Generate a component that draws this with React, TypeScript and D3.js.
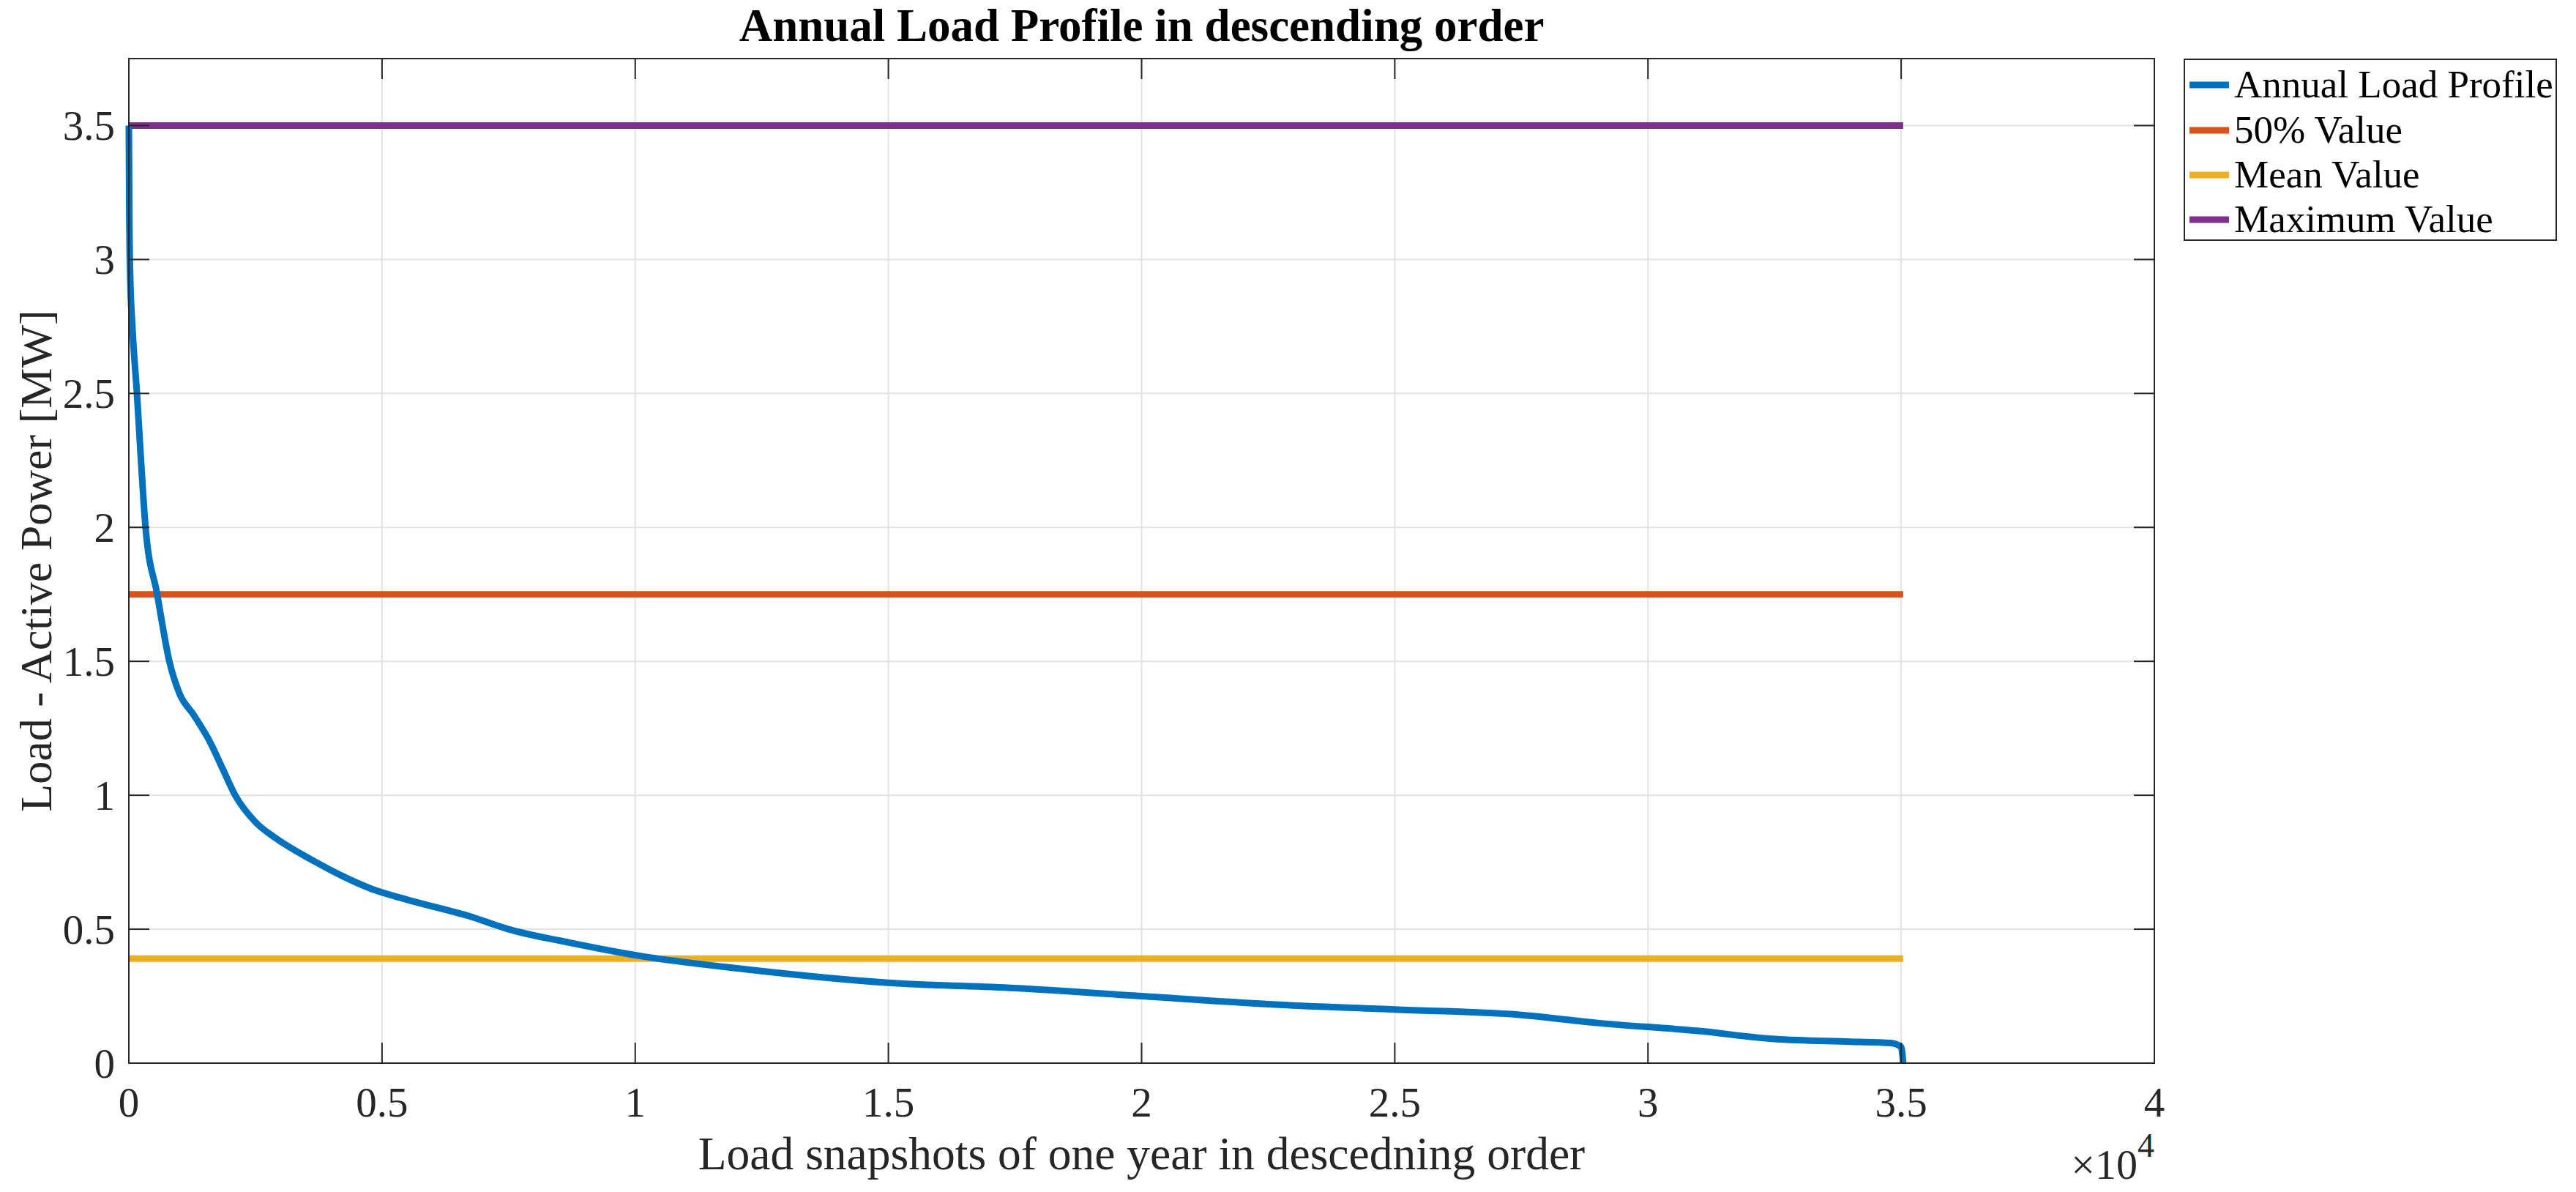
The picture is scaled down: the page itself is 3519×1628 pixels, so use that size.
import React from "react";
import * as d3 from "d3";

const W = 3519;
const H = 1628;

// Sorted annual load profile (snapshot index, MW)
const loadX = [0, 8, 25, 70, 160, 240, 330, 560, 800, 1000, 1280, 1600, 1850, 2100, 2500, 2900, 3600, 4200, 4800, 5500, 6700, 7500, 8700, 10100, 12200, 15000, 17500, 20000, 22500, 25000, 27500, 29000, 31000, 32500, 34000, 34800, 35000, 35040];
const loadY = [3.5, 3.2, 2.95, 2.75, 2.5, 2.25, 2.0, 1.75, 1.5, 1.38, 1.3, 1.2, 1.1, 1.0, 0.9, 0.84, 0.76, 0.7, 0.65, 0.61, 0.55, 0.5, 0.45, 0.4, 0.35, 0.3, 0.28, 0.25, 0.22, 0.2, 0.18, 0.15, 0.12, 0.09, 0.08, 0.075, 0.06, 0.0];

const nSnapshots = 35040;
const refNames = ["50% Value", "Mean Value", "Maximum Value"];
const refValues = [1.75, 0.39, 3.5];
const refColors = ["#D95319", "#EDB120", "#7E2F8E"];
const curveColor = "#0072BD";

const legendNames = ["Annual Load Profile", ...refNames];
const legendColors = [curveColor, ...refColors];

const xTicks = [0, 5000, 10000, 15000, 20000, 25000, 30000, 35000, 40000];
const xTickLabels = ["0", "0.5", "1", "1.5", "2", "2.5", "3", "3.5", "4"];
const yTicks = [0, 0.5, 1, 1.5, 2, 2.5, 3, 3.5];
const yTickLabels = ["0", "0.5", "1", "1.5", "2", "2.5", "3", "3.5"];

export default function App() {
  const left = 176, right = 2943, top = 80, bottom = 1452;
  const x = d3.scaleLinear().domain([0, 40000]).range([left, right]);
  const y = d3.scaleLinear().domain([0, 3.75]).range([bottom, top]);
  const pts = loadX.map((v, i) => [v, loadY[i]] as [number, number]);
  const line = d3.line<[number, number]>().x(d => x(d[0])).y(d => y(d[1])).curve(d3.curveMonotoneX);
  const font = "'Liberation Serif', 'Times New Roman', serif";
  const tickLen = 28;
  const axisColor = "#262626";
  const gridColor = "#e3e3e3";
  const lw = 9;

  const legLeft = 2984, legTop = 81, legRight = 3492, legBottom = 328;
  const rowY = [113, 175, 236, 297];

  return (
    <svg width={W} height={H} style={{ position: "absolute", left: 0, top: 0, background: "#fff" }} fontFamily={font}>
      <rect x={0} y={0} width={W} height={H} fill="#fff" />
      {/* grid */}
      {xTicks.map((t, i) => (
        <line key={"gx" + i} x1={x(t)} x2={x(t)} y1={top} y2={bottom} stroke={gridColor} strokeWidth={2} />
      ))}
      {yTicks.map((t, i) => (
        <line key={"gy" + i} x1={left} x2={right} y1={y(t)} y2={y(t)} stroke={gridColor} strokeWidth={2} />
      ))}
      {/* reference lines */}
      {refValues.map((v, i) => (
        <line key={"r" + i} x1={x(0)} x2={x(nSnapshots)} y1={y(v)} y2={y(v)} stroke={refColors[i]} strokeWidth={lw} />
      ))}
      {/* curve */}
      <path d={line(pts) || ""} fill="none" stroke={curveColor} strokeWidth={lw} strokeLinejoin="round" />
      {/* ticks */}
      {xTicks.map((t, i) => (
        <g key={"tx" + i}>
          <line x1={x(t)} x2={x(t)} y1={bottom} y2={bottom - tickLen} stroke={axisColor} strokeWidth={2} />
          <line x1={x(t)} x2={x(t)} y1={top} y2={top + tickLen} stroke={axisColor} strokeWidth={2} />
          <text x={x(t)} y={1525} textAnchor="middle" fontSize={57} fill={axisColor}>{xTickLabels[i]}</text>
        </g>
      ))}
      {yTicks.map((t, i) => (
        <g key={"ty" + i}>
          <line x1={left} x2={left + tickLen} y1={y(t)} y2={y(t)} stroke={axisColor} strokeWidth={2} />
          <line x1={right} x2={right - tickLen} y1={y(t)} y2={y(t)} stroke={axisColor} strokeWidth={2} />
          <text x={157} y={y(t) + 20} textAnchor="end" fontSize={57} fill={axisColor}>{yTickLabels[i]}</text>
        </g>
      ))}
      {/* box */}
      <rect x={left} y={top} width={right - left} height={bottom - top} fill="none" stroke={axisColor} strokeWidth={2} />
      {/* exponent */}
      <text x={right} y={1610} textAnchor="end" fontSize={58} fill={axisColor}>
        ×10<tspan dy={-30} fontSize={46}>4</tspan>
      </text>
      {/* labels */}
      <text x={(left + right) / 2} y={1597} textAnchor="middle" fontSize={63.5} fill={axisColor}>Load snapshots of one year in descedning order</text>
      <text transform={`translate(70, ${(top + bottom) / 2}) rotate(-90)`} textAnchor="middle" fontSize={62} fill={axisColor}>Load - Active Power [MW]</text>
      <text x={(left + right) / 2} y={56} textAnchor="middle" fontSize={63} fontWeight="bold" fill="#000">Annual Load Profile in descending order</text>
      {/* legend */}
      <rect x={legLeft} y={legTop} width={legRight - legLeft} height={legBottom - legTop} fill="#fff" stroke={axisColor} strokeWidth={2} />
      {legendNames.map((n, i) => (
        <g key={"l" + i}>
          <line x1={2991} x2={3045} y1={rowY[i] + 3} y2={rowY[i] + 3} stroke={legendColors[i]} strokeWidth={9} />
          <text x={3052} y={rowY[i] + 20} fontSize={53} fill="#000">{n}</text>
        </g>
      ))}
    </svg>
  );
}
